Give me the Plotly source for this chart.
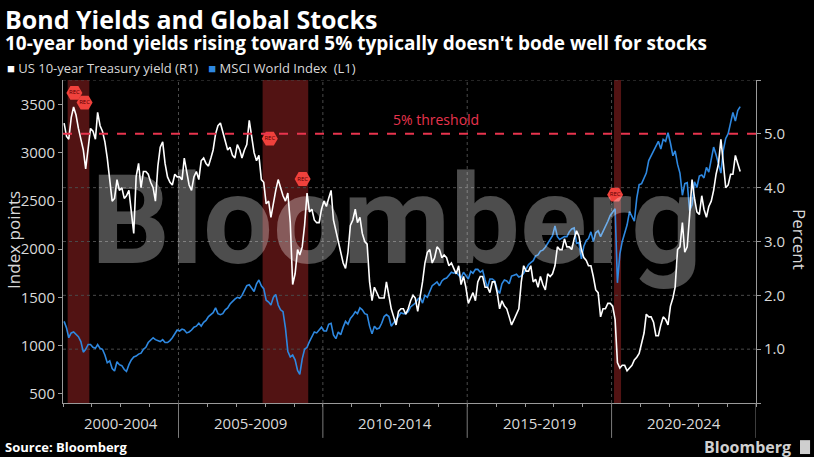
import plotly.graph_objects as go
import pandas as pd

# monthly readings, Jan 2001 .. Jun 2024
treasury_yield = [
    5.20, 4.95, 4.90, 5.30, 5.50, 5.35, 5.10, 4.90, 4.70, 4.35, 4.75, 5.10,
    5.05, 4.90, 5.40, 5.15, 5.05, 4.85, 4.55, 4.20, 3.75, 3.80, 4.15, 3.95,
    4.00, 3.80, 3.85, 3.95, 3.50, 3.15, 4.20, 4.45, 4.00, 4.30, 4.30, 4.25,
    4.10, 4.00, 3.75, 4.40, 4.75, 4.85, 4.45, 4.20, 4.10, 4.05, 4.25, 4.20,
    4.20, 4.15, 4.55, 4.25, 4.05, 3.95, 4.20, 4.30, 4.15, 4.50, 4.55, 4.45,
    4.40, 4.55, 4.70, 5.00, 5.15, 5.20, 5.05, 4.85, 4.70, 4.75, 4.60, 4.55,
    4.80, 4.70, 4.55, 4.70, 4.80, 5.25, 4.95, 4.65, 4.50, 4.60, 4.15, 4.10,
    3.70, 3.75, 3.45, 3.75, 3.95, 4.15, 4.00, 3.85, 3.75, 3.90, 3.35, 2.20,
    2.40, 2.85, 2.75, 2.90, 3.30, 3.90, 3.55, 3.60, 3.40, 3.35, 3.35, 3.60,
    3.75, 3.65, 3.80, 3.95, 3.40, 3.20, 3.00, 2.75, 2.60, 2.50, 2.80, 3.30,
    3.40, 3.60, 3.35, 3.45, 3.15, 3.00, 2.95, 2.25, 1.90, 2.15, 2.05, 1.95,
    1.95, 1.95, 2.25, 2.00, 1.75, 1.60, 1.45, 1.70, 1.75, 1.75, 1.65, 1.75,
    1.90, 2.00, 1.95, 1.70, 1.95, 2.25, 2.60, 2.80, 2.85, 2.60, 2.70, 2.90,
    2.85, 2.70, 2.75, 2.70, 2.55, 2.60, 2.50, 2.40, 2.55, 2.20, 2.35, 2.15,
    1.85, 1.95, 2.05, 1.90, 2.25, 2.35, 2.35, 2.15, 2.15, 2.05, 2.25, 2.25,
    2.05, 1.75, 1.90, 1.80, 1.75, 1.60, 1.45, 1.55, 1.65, 1.75, 2.25, 2.55,
    2.45, 2.45, 2.55, 2.25, 2.30, 2.15, 2.35, 2.20, 2.10, 2.40, 2.35, 2.40,
    2.55, 2.90, 2.85, 2.85, 3.05, 2.90, 2.90, 2.85, 3.05, 3.20, 3.10, 2.85,
    2.70, 2.65, 2.55, 2.55, 2.35, 2.10, 2.05, 1.60, 1.75, 1.75, 1.85, 1.85,
    1.80, 1.55, 0.75, 0.65, 0.70, 0.70, 0.60, 0.65, 0.70, 0.80, 0.85, 0.92,
    1.10, 1.30, 1.65, 1.60, 1.60, 1.50, 1.25, 1.25, 1.45, 1.60, 1.55, 1.45,
    1.80, 1.95, 2.15, 2.85, 2.90, 3.35, 2.80, 2.90, 3.50, 4.15, 3.80, 3.55,
    3.50, 3.85, 3.60, 3.45, 3.65, 3.75, 3.95, 4.25, 4.45, 4.90, 4.45, 4.00,
    4.05, 4.25, 4.25, 4.60, 4.45, 4.30,
]

msci_world = [
    1250, 1180, 1080, 1130, 1140, 1110, 1090, 1040, 930, 960, 1010, 1010,
    980, 970, 1010, 970, 960, 900, 820, 840, 760, 735, 830, 800,
    790, 750, 730, 800, 850, 880, 890, 910, 920, 960, 980, 1030,
    1060, 1080, 1060, 1050, 1040, 1060, 1030, 1030, 1050, 1080, 1120, 1160,
    1150, 1170, 1160, 1130, 1140, 1160, 1190, 1200, 1230, 1200, 1240, 1260,
    1300, 1320, 1340, 1390, 1330, 1320, 1330, 1370, 1390, 1430, 1460, 1480,
    1500, 1490, 1520, 1580, 1620, 1630, 1600, 1560, 1640, 1680, 1620, 1590,
    1470, 1450, 1420, 1500, 1530, 1420, 1370, 1350, 1180, 940, 880, 900,
    850, 740, 700, 860, 960, 980, 1040, 1090, 1140, 1130, 1160, 1190,
    1150, 1150, 1220, 1230, 1110, 1070, 1140, 1110, 1190, 1250, 1220, 1280,
    1310, 1350, 1330, 1390, 1370, 1330, 1320, 1200, 1120, 1200, 1170, 1180,
    1230, 1300, 1320, 1300, 1200, 1240, 1270, 1300, 1340, 1330, 1330, 1350,
    1400, 1420, 1440, 1480, 1500, 1440, 1520, 1500, 1560, 1620, 1640, 1660,
    1620, 1670, 1690, 1700, 1730, 1760, 1750, 1760, 1730, 1700, 1760, 1720,
    1690, 1770, 1750, 1790, 1790, 1760, 1780, 1680, 1600, 1690, 1690, 1670,
    1580, 1540, 1640, 1680, 1670, 1640, 1720, 1730, 1740, 1710, 1720, 1750,
    1790, 1840, 1860, 1880, 1930, 1940, 1980, 1990, 2020, 2060, 2100, 2140,
    2240, 2130, 2100, 2120, 2130, 2130, 2180, 2210, 2220, 2060, 2070, 1900,
    2030, 2090, 2110, 2180, 2080, 2170, 2190, 2130, 2180, 2230, 2290, 2350,
    2380, 2420, 1650, 1950, 2080, 2160, 2250, 2390, 2340, 2290, 2530, 2670,
    2680, 2730, 2790, 2920, 2970, 3010, 3060, 3120, 3040, 3140, 3120, 3210,
    3100, 2970, 3020, 2880, 2790, 2560, 2680, 2690, 2400, 2460, 2700, 2640,
    2760, 2770, 2740, 2850, 2800, 2950, 3060, 2980, 2880, 2790, 3030, 3150,
    3200, 3310, 3420, 3330, 3440, 3480,
]

recession_starts = ['2001-03-01', '2007-12-01', '2020-02-01']
recession_ends = ['2001-11-30', '2009-06-30', '2020-04-30']
rec_dates = ['2001-05-25', '2001-10-01', '2008-03-01', '2009-04-20', '2020-02-15']
rec_levels = [5.76, 5.58, 4.91, 4.16, 3.87]

period_labels = ['2000-2004', '2005-2009', '2010-2014', '2015-2019', '2020-2024']
period_mid = ['2003-01-01', '2007-07-02', '2012-07-02', '2017-07-02', '2022-07-02']
period_breaks = ['2005-01-01', '2010-01-01', '2015-01-01', '2020-01-01', '2025-01-01']
threshold = 5.0

dates = pd.date_range('2001-01-01', periods=len(treasury_yield), freq='MS') + pd.Timedelta(days=14)

FONT = 'Open Sans'
TXT = '#d9d9d9'

fig = go.Figure()
fig.add_trace(go.Scatter(x=dates, y=msci_world, mode='lines', yaxis='y',
                         line=dict(color='#2e88e0', width=1.6), showlegend=False))
fig.add_trace(go.Scatter(x=dates, y=treasury_yield, mode='lines', yaxis='y2',
                         line=dict(color='#ffffff', width=1.6), showlegend=False))
fig.add_trace(go.Scatter(x=pd.to_datetime(rec_dates), y=rec_levels, yaxis='y2',
                         mode='markers+text', text=['REC'] * len(rec_dates),
                         textfont=dict(size=6, color='#5a0000', family=FONT),
                         marker=dict(symbol='hexagon2', size=16, color='#f0413c'),
                         showlegend=False))

shapes = []
for s, e in zip(recession_starts, recession_ends):
    shapes.append(dict(type='rect', xref='x', yref='paper', x0=s, x1=e, y0=0, y1=1,
                       fillcolor='#521313', line_width=0, layer='below'))
# dotted grid
for v in [1, 2, 3, 4, 6]:
    shapes.append(dict(type='line', xref='paper', yref='y2', x0=0, x1=1, y0=v, y1=v,
                       line=dict(color='#4a4a4a', width=1, dash='dot'), layer='below'))
for b in period_breaks[:-1]:
    shapes.append(dict(type='line', xref='x', yref='paper', x0=b, x1=b, y0=0, y1=1,
                       line=dict(color='#4a4a4a', width=1, dash='dot'), layer='below'))
# period dividers under the axis
for b in period_breaks:
    shapes.append(dict(type='line', xref='x', yref='paper', x0=b, x1=b, y0=0, y1=-0.108,
                       line=dict(color='#7a7a7a', width=1)))
shapes.append(dict(type='line', xref='paper', yref='y2', x0=0, x1=1, y0=threshold, y1=threshold,
                   line=dict(color='#e8344e', width=2, dash='dash')))
# logo icon
shapes.append(dict(type='rect', xref='paper', yref='paper', x0=1.0635, x1=1.078,
                   y0=-0.158, y1=-0.115, fillcolor='#cfcfcf', line_width=0))

annotations = [
    dict(text='<b>Bond Yields and Global Stocks</b>', x=-0.0865, y=1.188, xref='paper', yref='paper',
         xanchor='left', yanchor='middle', showarrow=False, font=dict(family=FONT, size=25, color='#ffffff')),
    dict(text="<b>10-year bond yields rising toward 5% typically doesn't bode well for stocks</b>",
         x=-0.0865, y=1.114, xref='paper', yref='paper', xanchor='left', yanchor='middle',
         showarrow=False, font=dict(family=FONT, size=19, color='#ffffff')),
    dict(text="<span style='color:#ffffff'>■</span> US 10-year Treasury yield (R1)   "
              "<span style='color:#2e88e0'>■</span> MSCI World Index  (L1)",
         x=-0.084, y=1.037, xref='paper', yref='paper', xanchor='left', yanchor='middle',
         showarrow=False, font=dict(family=FONT, size=13, color=TXT)),
    dict(text='5% threshold', x='2013-12-01', y=5.26, xref='x', yref='y2', showarrow=False,
         font=dict(family=FONT, size=14, color='#e8344e')),
    dict(text='Index points', x=-0.0707, y=0.505, xref='paper', yref='paper', textangle=-90,
         xanchor='center', yanchor='middle',
         showarrow=False, font=dict(family=FONT, size=17, color=TXT)),
    dict(text='Percent', x=1.062, y=0.505, xref='paper', yref='paper', textangle=90,
         xanchor='center', yanchor='middle',
         showarrow=False, font=dict(family=FONT, size=17, color=TXT)),
    dict(text='<b>Source: Bloomberg</b>', x=-0.0865, y=-0.136, xref='paper', yref='paper',
         xanchor='left', yanchor='middle', showarrow=False, font=dict(family=FONT, size=13, color='#ffffff')),
    dict(text='<b>Bloomberg</b>', x=1.054, y=-0.136, xref='paper', yref='paper',
         xanchor='right', yanchor='middle', showarrow=False, font=dict(family=FONT, size=16, color='#d0d0d0')),
    dict(text='<b>Bloomberg</b>', x=0.481, y=0.565, xref='paper', yref='paper', showarrow=False,
         font=dict(family='Roboto', size=124, color='rgba(255,255,255,0.3)')),
]
for lbl, m in zip(period_labels, period_mid):
    annotations.append(dict(text=lbl, x=m, y=-0.062, xref='x', yref='paper', yanchor='middle',
                            showarrow=False, font=dict(family=FONT, size=15, color=TXT)))

fig.update_layout(
    width=814, height=457,
    margin=dict(l=63, r=58, t=80, b=54),
    paper_bgcolor='#000000', plot_bgcolor='#000000',
    font=dict(family=FONT, color=TXT),
    showlegend=False,
    xaxis=dict(type='date', range=['2001-01-01', '2025-01-01'], showgrid=False, zeroline=False,
               showline=True, linecolor='#9a9a9a', ticks='outside', ticklen=3, tickcolor='#9a9a9a',
               dtick='M12', tick0='2001-01-01', showticklabels=False),
    yaxis=dict(range=[402, 3757], tickvals=[500, 1000, 1500, 2000, 2500, 3000, 3500],
               showgrid=False, zeroline=False, showline=True, linecolor='#9a9a9a',
               ticks='outside', ticklen=4, tickcolor='#9a9a9a',
               tickfont=dict(family=FONT, size=15, color=TXT)),
    yaxis2=dict(range=[0, 6], overlaying='y', side='right', tickvals=[0, 1, 2, 3, 4, 5, 6],
                ticktext=['', '1.0', '2.0', '3.0', '4.0', '5.0', ''],
                showgrid=False, zeroline=False, showline=True, linecolor='#9a9a9a',
                ticks='outside', ticklen=4, tickcolor='#9a9a9a',
                tickfont=dict(family=FONT, size=15, color=TXT)),
    shapes=shapes,
    annotations=annotations,
)

fig.write_html('out.html', config={'displayModeBar': False},
               post_script="document.body.style.margin='0';")
